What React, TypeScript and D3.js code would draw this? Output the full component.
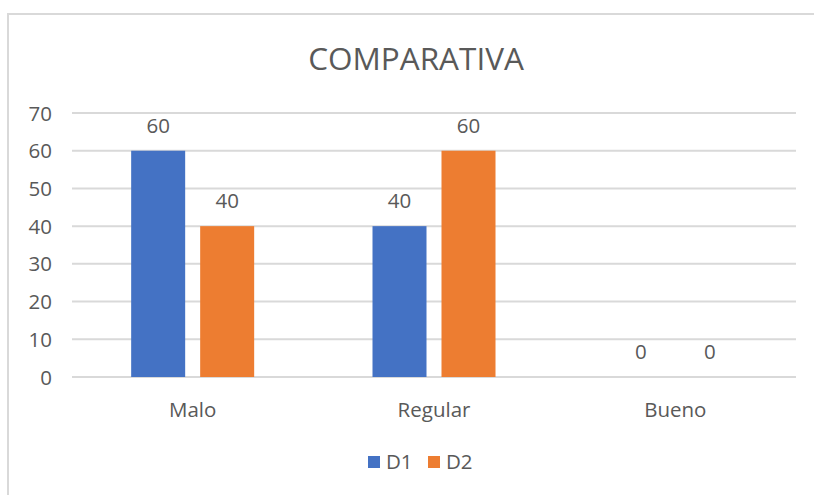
import React from "react";
import * as d3 from "d3";

const categories = ["Malo", "Regular", "Bueno"];
const seriesNames = ["D1", "D2"];
const d1Values = [60, 40, 0];
const d2Values = [40, 60, 0];
const yTicks = [0, 10, 20, 30, 40, 50, 60, 70];
const colors = ["#4472C4", "#ED7D31"];

const W = 814;
const H = 495;
const FONT = "'Open Sans', 'Liberation Sans', sans-serif";
const TEXT = "#595959";
const LABEL_SIZE = 20.5;

export default function App() {
  const left = 72;
  const right = 796;
  const top = 113;
  const bottom = 377;

  const x = d3.scaleBand<string>().domain(categories).range([left, right]).paddingInner(0).paddingOuter(0);
  const y = d3.scaleLinear().domain([0, 70]).range([bottom, top]);
  const barW = 54;
  const gap = 15;
  const series = [d1Values, d2Values];

  const barX = (ci: number, si: number) => {
    const c = x(categories[ci])! + x.bandwidth() / 2;
    const groupW = barW * 2 + gap;
    return c - groupW / 2 + si * (barW + gap);
  };

  return (
    <svg width={W} height={H} style={{ position: "absolute", left: 0, top: 0, background: "#fff" }}>
      <rect x={8} y={14} width={W} height={H} fill="#fff" stroke="#d9d9d9" strokeWidth={2} />
      <text x={416} y={70} textAnchor="middle" fontFamily={FONT} fontSize={31.5} fill={TEXT}>
        COMPARATIVA
      </text>
      {yTicks.map((t) => (
        <g key={t}>
          <line x1={left} x2={right} y1={y(t)} y2={y(t)} stroke="#d9d9d9" strokeWidth={2} />
          <text x={52} y={y(t) + 7.5} textAnchor="end" fontFamily={FONT} fontSize={LABEL_SIZE} fill={TEXT}>
            {t}
          </text>
        </g>
      ))}
      {series.map((vals, si) =>
        vals.map((v, ci) => (
          <g key={`${si}-${ci}`}>
            <rect x={barX(ci, si)} y={y(v)} width={barW} height={bottom - y(v)} fill={colors[si]} />
            <text
              x={barX(ci, si) + barW / 2}
              y={y(v) - 18}
              textAnchor="middle"
              fontFamily={FONT}
              fontSize={LABEL_SIZE}
              fill={TEXT}
            >
              {v}
            </text>
          </g>
        ))
      )}
      {categories.map((c) => (
        <text
          key={c}
          x={x(c)! + x.bandwidth() / 2}
          y={417}
          textAnchor="middle"
          fontFamily={FONT}
          fontSize={LABEL_SIZE}
          fill={TEXT}
        >
          {c}
        </text>
      ))}
      {seriesNames.map((n, i) => (
        <g key={n} transform={`translate(${368 + i * 60},0)`}>
          <rect x={0} y={456} width={12} height={12} fill={colors[i]} />
          <text x={18} y={468.5} fontFamily={FONT} fontSize={LABEL_SIZE} fill={TEXT}>
            {n}
          </text>
        </g>
      ))}
    </svg>
  );
}
